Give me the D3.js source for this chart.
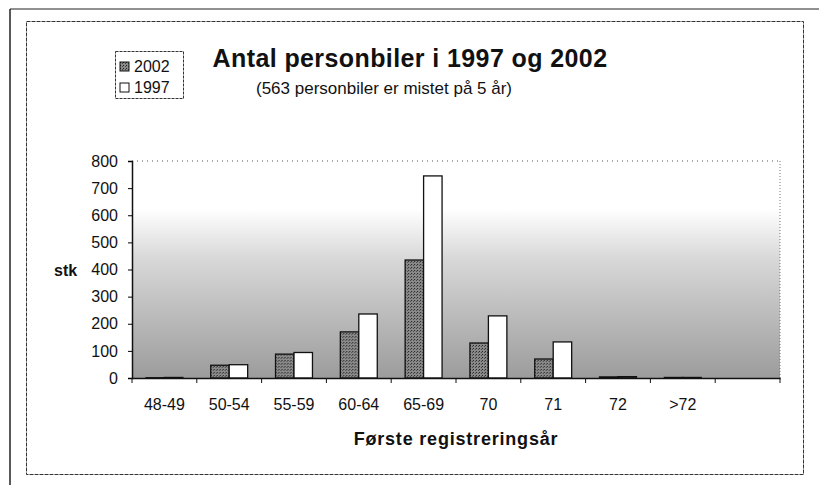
<!DOCTYPE html>
<html>
<head>
<meta charset="utf-8">
<script src="https://cdn.jsdelivr.net/npm/d3@7"></script>
<style>
  body { margin: 0; background: #fff; }
  svg text { font-family: "Liberation Sans", Arial, sans-serif; fill: #111; }
</style>
</head>
<body>
<div id="chart"></div>
<script>
// data
const categories = ["48-49", "50-54", "55-59", "60-64", "65-69", "70", "71", "72", ">72", ""];
const series = ["2002", "1997"];
const values2002 = [1, 47, 88, 170, 435, 129, 70, 4, 2, 0];
const values1997 = [2, 49, 94, 236, 745, 229, 133, 5, 2, 0];
const yTicks = [0, 100, 200, 300, 400, 500, 600, 700, 800];

const width = 819, height = 485;
const plot = { left: 132, right: 780, top: 161, bottom: 378 };

const svg = d3.select("#chart").append("svg")
    .attr("width", width)
    .attr("height", height);

const defs = svg.append("defs");

// background shading of the plot area: white at the top, grey at the bottom
const bg = defs.append("linearGradient")
    .attr("id", "bgGrad")
    .attr("x1", 0).attr("y1", 0).attr("x2", 0).attr("y2", 1);
bg.append("stop").attr("offset", "0%").attr("stop-color", "#ffffff");
bg.append("stop").attr("offset", "22%").attr("stop-color", "#ffffff");
bg.append("stop").attr("offset", "45%").attr("stop-color", "#d8d8d8");
bg.append("stop").attr("offset", "100%").attr("stop-color", "#9c9c9c");

// stippled fill for the 2002 bars
const pat = defs.append("pattern")
    .attr("id", "dark")
    .attr("width", 3).attr("height", 3)
    .attr("patternUnits", "userSpaceOnUse");
pat.append("rect").attr("width", 3).attr("height", 3).attr("fill", "#8a8a8a");
pat.append("rect").attr("x", 0).attr("y", 0).attr("width", 1).attr("height", 1).attr("fill", "#222");
pat.append("rect").attr("x", 2).attr("y", 1).attr("width", 1).attr("height", 1).attr("fill", "#444");

// frames
svg.append("line")
    .attr("x1", 10).attr("x2", width).attr("y1", 9).attr("y2", 9)
    .attr("stroke", "#222").attr("stroke-width", 1.2);
svg.append("line")
    .attr("x1", 10).attr("x2", 10).attr("y1", 9).attr("y2", height)
    .attr("stroke", "#222").attr("stroke-width", 1.5);
svg.append("rect")
    .attr("x", 26.5).attr("y", 21.5).attr("width", 777).attr("height", 453)
    .attr("fill", "none").attr("stroke", "#333").attr("stroke-width", 1)
    .attr("stroke-dasharray", "4,1");

// scales
const x0 = d3.scaleBand()
    .domain(categories)
    .range([plot.left, plot.right])
    .paddingInner(0.43)
    .paddingOuter(0.215);

const x1 = d3.scaleBand()
    .domain(series)
    .range([0, x0.bandwidth()]);

const y = d3.scaleLinear()
    .domain([0, 800])
    .range([plot.bottom, plot.top]);

// plot area
svg.append("rect")
    .attr("x", plot.left).attr("y", plot.top)
    .attr("width", plot.right - plot.left).attr("height", plot.bottom - plot.top)
    .attr("fill", "url(#bgGrad)");

// dotted top and right border of the plot area
svg.append("line")
    .attr("x1", plot.left).attr("x2", plot.right)
    .attr("y1", y(800)).attr("y2", y(800))
    .attr("stroke", "#555").attr("stroke-dasharray", "1,4");
svg.append("line")
    .attr("x1", plot.right).attr("x2", plot.right)
    .attr("y1", plot.top).attr("y2", plot.bottom)
    .attr("stroke", "#777").attr("stroke-dasharray", "1,2");

// bars
const rows = categories.map((c, i) => ({ cat: c, vals: [values2002[i], values1997[i]] }));

const groups = svg.selectAll("g.cat")
    .data(rows)
    .enter()
    .append("g")
    .attr("class", "cat")
    .attr("transform", d => `translate(${x0(d.cat)},0)`);

groups.selectAll("rect")
    .data(d => d.vals.map((v, j) => ({ key: series[j], value: v })))
    .enter()
    .append("rect")
    .attr("x", d => x1(d.key))
    .attr("y", d => y(d.value))
    .attr("width", x1.bandwidth())
    .attr("height", d => y(0) - y(d.value))
    .attr("fill", d => d.key === "2002" ? "url(#dark)" : "#fff")
    .attr("stroke", "#111")
    .attr("stroke-width", 1.3);

// y axis
const yAxis = svg.append("g")
    .attr("transform", `translate(${plot.left},0)`)
    .call(d3.axisLeft(y).tickValues(yTicks).tickSize(4).tickPadding(10).tickFormat(d3.format("d")));
yAxis.select(".domain").attr("stroke", "#111").attr("stroke-width", 1.5);
yAxis.selectAll("text").style("font-size", "16px").attr("fill", "#111");

// x axis: labels centered in each category, ticks at boundaries
const xAxis = svg.append("g")
    .attr("transform", `translate(0,${plot.bottom})`)
    .call(d3.axisBottom(x0).tickSize(0).tickPadding(21));
xAxis.select(".domain").attr("stroke", "#111").attr("stroke-width", 1.5);
xAxis.selectAll("text").style("font-size", "16px").attr("fill", "#111");

const boundaries = categories.map(c => x0(c) - x0.step() * x0.paddingInner() / 2)
    .concat([plot.right]);
svg.selectAll("line.xtick")
    .data(boundaries)
    .enter()
    .append("line")
    .attr("class", "xtick")
    .attr("x1", d => d).attr("x2", d => d)
    .attr("y1", plot.bottom).attr("y2", plot.bottom + 5)
    .attr("stroke", "#111");

// axis titles
svg.append("text")
    .attr("x", 54).attr("y", y(400) + 6)
    .style("font-size", "16px").style("font-weight", "bold")
    .text("stk");

svg.append("text")
    .attr("x", 456).attr("y", 445)
    .attr("text-anchor", "middle")
    .style("font-size", "18px").style("font-weight", "bold")
    .style("letter-spacing", "0.8px")
    .text("Første registreringsår");

// titles
svg.append("text")
    .attr("x", 410).attr("y", 67)
    .attr("text-anchor", "middle")
    .style("font-size", "25px").style("font-weight", "bold")
    .style("letter-spacing", "0.4px")
    .text("Antal personbiler i 1997 og 2002");

svg.append("text")
    .attr("x", 384).attr("y", 94)
    .attr("text-anchor", "middle")
    .style("font-size", "17px")
    .text("(563 personbiler er mistet på 5 år)");

// legend
const legend = svg.append("g").attr("transform", "translate(115,51)");
legend.append("rect")
    .attr("x", 0.5).attr("y", 0.5).attr("width", 68).attr("height", 47)
    .attr("fill", "#fff").attr("stroke", "#333").attr("stroke-dasharray", "3,1");

legend.selectAll("g.item")
    .data(series)
    .enter()
    .append("g")
    .attr("class", "item")
    .attr("transform", (d, i) => `translate(5,${11 + i * 21})`)
    .each(function (d) {
        const g = d3.select(this);
        g.append("rect")
            .attr("width", 9).attr("height", 9)
            .attr("fill", d === "2002" ? "url(#dark)" : "#fff")
            .attr("stroke", "#111");
        g.append("text")
            .attr("x", 14).attr("y", 10)
            .style("font-size", "16px")
            .text(d);
    });
</script>
</body>
</html>
